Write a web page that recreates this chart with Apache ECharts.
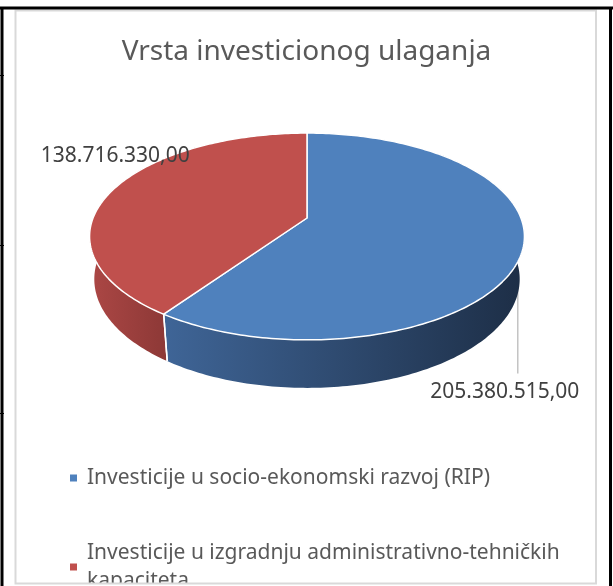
<!DOCTYPE html>
<html>
<head>
<meta charset="utf-8">
<script src="https://cdn.jsdelivr.net/npm/echarts@6/dist/echarts.min.js"></script>
<style>
  html, body { margin: 0; padding: 0; background: #fff; }
  #chart { width: 613px; height: 586px; }
</style>
</head>
<body>
<div id="chart"></div>
<script>
// data
var chartTitle = 'Vrsta investicionog ulaganja';
var names = ['Investicije u socio-ekonomski razvoj (RIP)', 'Investicije u izgradnju administrativno-tehničkih kapaciteta'];
var values = [205380515.00, 138716330.00];

// styles
var FONT = '"Noto Sans", sans-serif';
var topColors = ['#4f81bd', '#c0504d'];
var sideColors = [['#3f6597', '#1d2e46'], ['#ac4745', '#8e3937']];
// where each value label sits relative to its slice (leader = line down from rim)
var labelPos = [
  { leader: true, lineLen: 80, dx: -13, dy: 98 },
  { leader: false, dx: 2, dy: -34 }
];

// 3d pie projection (tilted disc seen in perspective)
var pie = { cx: 307, cy: 218, f: 1059, d0: 4.95, tilt: 27.9 * Math.PI / 180, h: 0.228 };
var ca = Math.cos(pie.tilt), sa = Math.sin(pie.tilt);

function proj (X, Y, Z) {
  var v = Y * ca - Z * sa;
  var w = pie.d0 - Y * sa - Z * ca;
  return [pie.cx + pie.f * X / w, pie.cy - pie.f * v / w];
}
function rim (deg, y) {
  var t = deg * Math.PI / 180;
  return proj(Math.sin(t), y, -Math.cos(t));
}
function isFront (deg) {
  return Math.cos(deg * Math.PI / 180) < 0;
}

var total = values.reduce(function (s, v) { return s + v; }, 0);
var startAngles = [];
(function () {
  var acc = 0;
  values.forEach(function (v) { startAngles.push(acc / total * 360); acc += v; });
})();

function fmt (v) {
  var parts = v.toFixed(2).split('.');
  return parts[0].replace(/\B(?=(\d{3})+(?!\d))/g, '.') + ',' + parts[1];
}

function makeRender (i) {
  return function (params, api) {
    var val = api.value(0);
    var a0 = startAngles[i];
    var a1 = a0 + val / total * 360;
    var steps = Math.max(2, Math.ceil(a1 - a0));
    var topPts = [proj(0, 0, 0)];
    var sideTop = [], sideBot = [];
    var xmin = Infinity, xmax = -Infinity;
    for (var k = 0; k <= steps; k++) {
      var d = a0 + (a1 - a0) * k / steps;
      var p = rim(d, 0);
      var q = rim(d, -pie.h);
      topPts.push(p);
      sideTop.push(p);
      sideBot.unshift(q);
      if (isFront(d)) {
        xmin = Math.min(xmin, p[0]);
        xmax = Math.max(xmax, p[0]);
      }
    }
    if (!isFinite(xmin)) { xmin = pie.cx - 1; xmax = pie.cx + 1; }
    var children = [];
    children.push({
      type: 'polygon',
      z2: 1,
      shape: { points: sideTop.concat(sideBot) },
      style: {
        fill: new echarts.graphic.LinearGradient(xmin, 0, xmax, 0, [
          { offset: 0, color: sideColors[i][0] },
          { offset: 1, color: sideColors[i][1] }
        ], true)
      }
    });
    [a0, a1].forEach(function (d) {
      if (isFront(d)) {
        var p = rim(d, 0), q = rim(d, -pie.h);
        children.push({
          type: 'line', z2: 2,
          shape: { x1: p[0], y1: p[1], x2: q[0], y2: q[1] },
          style: { stroke: '#fff', lineWidth: 1.5 }
        });
      }
    });
    children.push({
      type: 'polygon',
      z2: 5,
      shape: { points: topPts },
      style: { fill: topColors[i], stroke: '#fff', lineWidth: 1.5, lineJoin: 'round' }
    });
    var mid = (a0 + a1) / 2;
    var lp = labelPos[i];
    var anchor = lp.leader ? rim(mid, -pie.h) : rim(mid, 0);
    if (lp.leader) {
      children.push({
        type: 'line', z2: 0,
        shape: { x1: anchor[0], y1: anchor[1] - 20, x2: anchor[0], y2: anchor[1] + lp.lineLen },
        style: { stroke: '#a6a6a6', lineWidth: 1 }
      });
    }
    children.push({
      type: 'text', z2: 10,
      style: {
        text: fmt(val),
        x: anchor[0] + lp.dx, y: anchor[1] + lp.dy,
        align: 'center', verticalAlign: 'middle',
        fontSize: 21, fontFamily: FONT, fill: '#404040'
      }
    });
    return { type: 'group', children: children };
  };
}

var chart = echarts.init(document.getElementById('chart'), null, { renderer: 'canvas' });

var series = names.map(function (n, i) {
  return {
    name: n,
    type: 'custom',
    coordinateSystem: 'none',
    silent: true,
    itemStyle: { color: topColors[i] },
    renderItem: makeRender(i),
    data: [values[i]]
  };
});

var legendBase = {
  orient: 'vertical',
  left: 70,
  padding: 0,
  icon: 'rect',
  itemWidth: 7,
  itemHeight: 7,
  selectedMode: false
};

chart.setOption({
  animation: false,
  backgroundColor: '#fff',
  title: {
    text: chartTitle,
    left: 'center',
    top: 38,
    padding: 0,
    textStyle: { fontSize: 28, fontWeight: 'normal', color: '#595959', fontFamily: FONT }
  },
  legend: [
    Object.assign({}, legendBase, {
      top: 464,
      data: [names[0]],
      textStyle: { fontSize: 21, color: '#595959', fontFamily: FONT, lineHeight: 28, padding: [0, 0, 0, 5] }
    }),
    Object.assign({}, legendBase, {
      top: 525,
      data: [names[1]],
      textStyle: { fontSize: 21, color: '#595959', fontFamily: FONT, lineHeight: 28, width: 490, overflow: 'break', padding: [28, 0, 0, 5] }
    })
  ],
  graphic: [
    { type: 'rect', z: 50, shape: { x: 14, y: 584, width: 584, height: 4 }, style: { fill: '#fff' } },
    { type: 'rect', z: 51, shape: { x: 15.5, y: 10.5, width: 580.5, height: 573 }, style: { fill: 'none', stroke: '#d9d9d9', lineWidth: 2 } },
    { type: 'line', z: 52, shape: { x1: 0, y1: 8, x2: 613, y2: 8 }, style: { stroke: '#000', lineWidth: 3 } },
    { type: 'line', z: 52, shape: { x1: 2, y1: 7, x2: 2, y2: 586 }, style: { stroke: '#000', lineWidth: 3 } },
    { type: 'line', z: 52, shape: { x1: 610.5, y1: 7, x2: 610.5, y2: 586 }, style: { stroke: '#000', lineWidth: 3 } },
    { type: 'line', z: 52, shape: { x1: 0, y1: 75.5, x2: 4, y2: 75.5 }, style: { stroke: '#000', lineWidth: 1 } },
    { type: 'line', z: 52, shape: { x1: 0, y1: 245.5, x2: 4, y2: 245.5 }, style: { stroke: '#000', lineWidth: 1 } },
    { type: 'line', z: 52, shape: { x1: 0, y1: 413.5, x2: 4, y2: 413.5 }, style: { stroke: '#000', lineWidth: 1 } }
  ],
  series: series
});
</script>
</body>
</html>
